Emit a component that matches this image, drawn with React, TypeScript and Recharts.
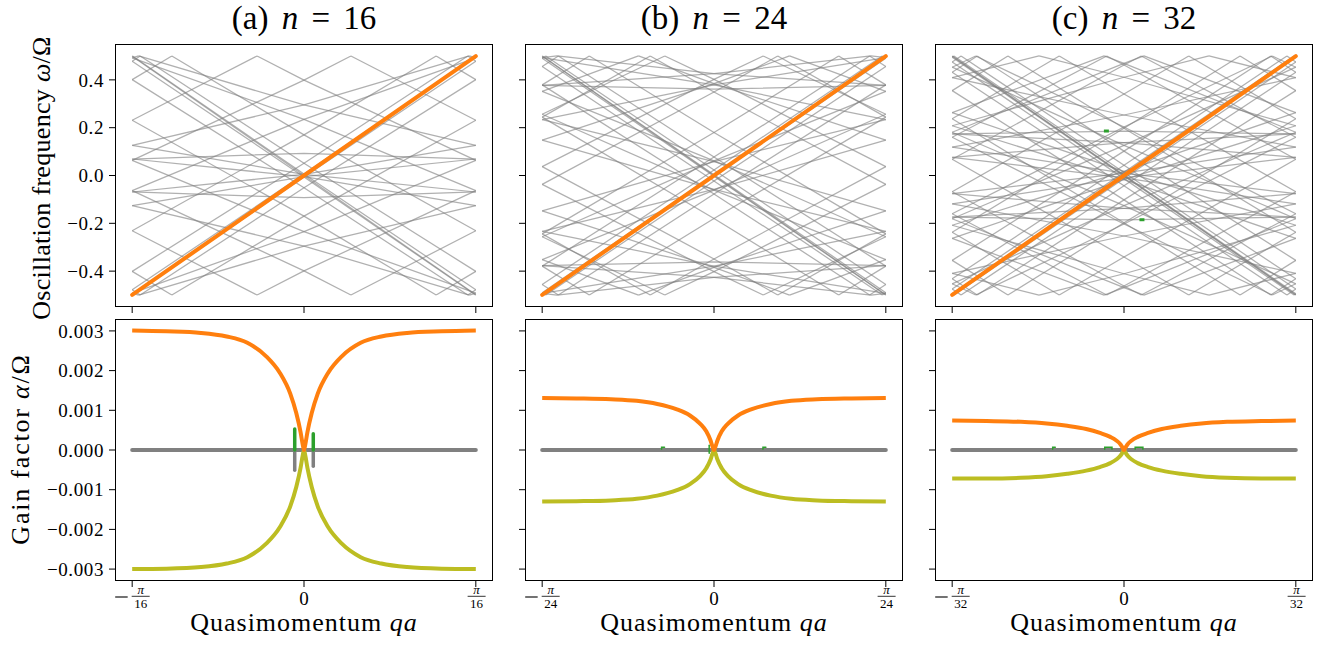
import React from 'react'
import { LineChart, Line, XAxis, YAxis } from 'recharts'

const SERIF = '"Liberation Serif", "DejaVu Serif", serif'

// ticks (x in units of pi/n)
const xTicks = [-1, 0, 1]
const omegaTicks = [-0.4, -0.2, 0, 0.2, 0.4]
const gainTicks = [-0.003, -0.002, -0.001, 0, 0.001, 0.002, 0.003]

// band branches m = 1..n/2, unfolded omega/Omega at qa = -pi/n, 0, +pi/n
const bandX = [-1, 0, 1]
const bands16 = [
  [0.4992, 0.994, 1.478], [1.478, 1.949, 2.401], [2.401, 2.83, 3.231], [3.231, 3.601, 3.937],
  [3.937, 4.235, 4.492], [4.492, 4.705, 4.874], [4.874, 4.995, 5.069], [5.069, 5.093, 5.069],
]
const bands24 = [
  [0.4997, 0.997, 1.49], [1.49, 1.977, 2.456], [2.456, 2.923, 3.379], [3.379, 3.82, 4.244],
  [4.244, 4.651, 5.037], [5.037, 5.402, 5.744], [5.744, 6.061, 6.352], [6.352, 6.616, 6.852],
  [6.852, 7.058, 7.234], [7.234, 7.379, 7.493], [7.493, 7.574, 7.623], [7.623, 7.639, 7.623],
]
const bands32 = [
  [0.4998, 0.998, 1.495], [1.495, 1.987, 2.475], [2.475, 2.957, 3.432], [3.432, 3.898, 4.355],
  [4.355, 4.802, 5.237], [5.237, 5.659, 6.068], [6.068, 6.462, 6.84], [6.84, 7.203, 7.547],
  [7.547, 7.874, 8.181], [8.181, 8.469, 8.737], [8.737, 8.983, 9.208], [9.208, 9.411, 9.591],
  [9.591, 9.747, 9.881], [9.881, 9.99, 10.076], [10.076, 10.137, 10.174], [10.174, 10.186, 10.174],
]
// the amplified mode (orange in the top row)
const lightBand = [-0.4992, 0, 0.4992]

// gain factor alpha/Omega vs qa
const qGrid = [-1, -0.8, -0.6, -0.45, -0.33, -0.22, -0.14, -0.08, -0.045, -0.02, -0.008, 0,
  0.008, 0.02, 0.045, 0.08, 0.14, 0.22, 0.33, 0.45, 0.6, 0.8, 1]
const gain16 = [0.00301, 0.00299, 0.00295, 0.00286, 0.0027, 0.00236, 0.00194, 0.00142, 0.00093, 0.00045, 0.00015, 0,
  0.00015, 0.00045, 0.00093, 0.00142, 0.00194, 0.00236, 0.0027, 0.00286, 0.00295, 0.00299, 0.00301]
const loss16 = [-0.003, -0.00299, -0.00295, -0.00286, -0.0027, -0.00236, -0.00194, -0.00142, -0.00093, -0.00045, -0.00015, 0,
  -0.00015, -0.00045, -0.00093, -0.00142, -0.00194, -0.00236, -0.0027, -0.00286, -0.00295, -0.00299, -0.003]
const gain24 = [0.00131, 0.0013, 0.00128, 0.00124, 0.00116, 0.00103, 0.00087, 0.00066, 0.00047, 0.00024, 0.00008, 0,
  0.00008, 0.00024, 0.00047, 0.00066, 0.00087, 0.00103, 0.00116, 0.00124, 0.00128, 0.0013, 0.00131]
const loss24 = [-0.0013, -0.00129, -0.00127, -0.00123, -0.00115, -0.00102, -0.00086, -0.00065, -0.00046, -0.00024, -0.00008, 0,
  -0.00008, -0.00024, -0.00046, -0.00065, -0.00086, -0.00102, -0.00115, -0.00123, -0.00127, -0.00129, -0.0013]
const gain32 = [0.00074, 0.00073, 0.00071, 0.00067, 0.00061, 0.00053, 0.00043, 0.00033, 0.00024, 0.00014, 0.00006, 0,
  0.00006, 0.00014, 0.00024, 0.00033, 0.00043, 0.00053, 0.00061, 0.00067, 0.00071, 0.00073, 0.00074]
const loss32 = [-0.00072, -0.00072, -0.0007, -0.00066, -0.0006, -0.00052, -0.00043, -0.00033, -0.00024, -0.00014, -0.00006, 0,
  -0.00006, -0.00014, -0.00024, -0.00033, -0.00043, -0.00052, -0.0006, -0.00066, -0.0007, -0.00072, -0.00072]
const zeroLine = [[-1, 0], [1, 0]]

// small marks
const greenGain16 = [[[-0.054, 0], [-0.054, 0.00053]], [[0.054, 0], [0.054, 0.00041]]]
const grayGain16 = [[[-0.054, 0], [-0.054, -0.00051]], [[0.054, 0], [0.054, -0.00041]]]
const greenGain24 = [
  [[-0.305, 0.00002], [-0.305, 0.00007], [-0.288, 0.00007]],
  [[0.285, 0.00002], [0.285, 0.00007], [0.302, 0.00007]],
  [[-0.028, -0.00008], [-0.028, 0.00012]],
]
const greenGain32 = [
  [[-0.415, 0.00002], [-0.415, 0.00007], [-0.4, 0.00007]],
  [[-0.112, 0.00002], [-0.112, 0.00007], [-0.07, 0.00007], [-0.07, 0.00002]],
  [[0.065, 0.00002], [0.065, 0.00007], [0.11, 0.00007], [0.11, 0.00002]],
]
const greenOmega32 = [[[-0.117, 0.186], [-0.088, 0.186]], [[0.09, -0.185], [0.119, -0.185]]]

type Pt = { x: number; w: number | null }

const wrap = (w: number) => w - Math.round(w)

// fold an unfolded branch into the first frequency zone [-0.5, 0.5]
function fold(ws: number[], sign: number): Pt[] {
  const pts: Pt[] = [{ x: bandX[0], w: sign * wrap(ws[0]) }]
  for (let i = 0; i < ws.length - 1; i++) {
    const x0 = bandX[i], x1 = bandX[i + 1], w0 = ws[i], w1 = ws[i + 1]
    const lo = Math.min(w0, w1), hi = Math.max(w0, w1)
    const up = w1 > w0
    const edges: number[] = []
    for (let k = Math.floor(lo) - 1; k <= Math.ceil(hi); k++) {
      const e = k + 0.5
      if (e > lo && e < hi) edges.push(e)
    }
    if (!up) edges.reverse()
    for (const e of edges) {
      const xe = x0 + ((e - w0) / (w1 - w0)) * (x1 - x0)
      pts.push({ x: xe, w: sign * (up ? 0.5 : -0.5) })
      pts.push({ x: xe, w: null })
      pts.push({ x: xe, w: sign * (up ? -0.5 : 0.5) })
    }
    pts.push({ x: x1, w: sign * wrap(w1) })
  }
  return pts
}

function grayLines(bands: number[][]): Pt[][] {
  const out: Pt[][] = []
  bands.forEach((b, i) => {
    const variants = i === bands.length - 1 ? [b] : [b, [...b].reverse()]
    variants.forEach(v => {
      out.push(fold(v, 1))
      out.push(fold(v, -1))
    })
  })
  out.push(fold(lightBand, -1))
  return out
}

const toPts = (seg: number[][]): Pt[] => seg.map(([x, w]) => ({ x, w }))

const panels = [
  { n: 16, letter: 'a', left: 115, bands: bands16, gain: gain16, loss: loss16, green: greenGain16, grayMarks: grayGain16, greenTop: [] as number[][][] },
  { n: 24, letter: 'b', left: 525, bands: bands24, gain: gain24, loss: loss24, green: greenGain24, grayMarks: [] as number[][][], greenTop: [] as number[][][] },
  { n: 32, letter: 'c', left: 935, bands: bands32, gain: gain32, loss: loss32, green: greenGain32, grayMarks: [] as number[][][], greenTop: greenOmega32 },
]

const AXIS_W = 100
const PLOT_W = 378
const TOP_Y = 44
const TOP_H = 263
const BOT_Y = 319
const BOT_H = 262

const noTick = () => <g />
const minus = (v: number) => (v < 0 ? '\u2212' : '')
const fmtOmega = (v: number) => minus(v) + Math.abs(v).toFixed(1)
const fmtGain = (v: number) => minus(v) + Math.abs(v).toFixed(3)
const tickStyle = { fontSize: 19, fontFamily: SERIF, fill: '#000', letterSpacing: 0.6 }

const fracTick = (n: number) => (props: any) => {
  const { x, y, payload } = props
  const v = payload.value
  if (v === 0) {
    return <text x={x} y={y + 18} textAnchor="middle" fontSize={19} fontFamily={SERIF} fill="#000">0</text>
  }
  const cx = v < 0 ? x + 8.5 : x + 0.8
  return (
    <g>
      {v < 0 && <line x1={x - 17} x2={x - 4.5} y1={y + 10} y2={y + 10} stroke="#000" strokeWidth={1.1} />}
      <text x={cx} y={y + 7} textAnchor="middle" fontSize={13} fontStyle="italic" fontFamily={SERIF} fill="#000">π</text>
      <line x1={cx - 9} x2={cx + 9} y1={y + 9.3} y2={y + 9.3} stroke="#000" strokeWidth={0.8} />
      <text x={cx} y={y + 20.5} textAnchor="middle" fontSize={13} fontFamily={SERIF} fill="#000">{n}</text>
    </g>
  )
}

const lineProps = { dot: false, activeDot: false, isAnimationActive: false, dataKey: 'w' } as const

function Frame({ left, top, height }: { left: number; top: number; height: number }) {
  return (
    <div style={{ position: 'absolute', left, top, width: PLOT_W, height, border: '1px solid #000', boxSizing: 'border-box', pointerEvents: 'none' }} />
  )
}

function Column({ p, index }: { p: typeof panels[number]; index: number }) {
  const lines = grayLines(p.bands)
  const cx = p.left + PLOT_W / 2
  return (
    <>
      <div style={{ position: 'absolute', left: cx, top: 2, transform: 'translateX(-50%)', fontSize: 33, lineHeight: 1, whiteSpace: 'nowrap', wordSpacing: 5 }}>
        ({p.letter}) <i>n</i> = {p.n}
      </div>

      <div style={{ position: 'absolute', left: p.left - AXIS_W, top: TOP_Y }}>
        <LineChart width={AXIS_W + PLOT_W} height={TOP_H + 12} margin={{ top: 0, right: 0, bottom: 0, left: 0 }}>
          <XAxis type="number" dataKey="x" domain={[-1.1, 1.1]} ticks={xTicks} interval={0} allowDataOverflow
            axisLine={false} tickLine={{ stroke: '#000' }} tickSize={6} tick={noTick} height={12} />
          <YAxis type="number" domain={[-0.55, 0.55]} ticks={omegaTicks} interval={0} allowDataOverflow
            axisLine={false} tickLine={{ stroke: '#000' }} tickSize={6} tickMargin={5} width={AXIS_W}
            tick={index === 0 ? tickStyle : noTick} tickFormatter={fmtOmega} />
          {lines.map((pts, i) => (
            <Line key={'g' + i} data={pts} {...lineProps} type="linear" stroke="#808080" strokeOpacity={0.62} strokeWidth={1.25} />
          ))}
          <Line data={toPts([[-1, lightBand[0]], [0, lightBand[1]], [1, lightBand[2]]])} {...lineProps} type="linear"
            stroke="#ff7f0e" strokeWidth={4} strokeLinecap="round" />
          {p.greenTop.map((seg, i) => (
            <Line key={'t' + i} data={toPts(seg)} {...lineProps} type="linear" stroke="#2ca02c" strokeWidth={3} />
          ))}
        </LineChart>
      </div>
      <Frame left={p.left} top={TOP_Y} height={TOP_H} />

      <div style={{ position: 'absolute', left: p.left - AXIS_W, top: BOT_Y }}>
        <LineChart width={AXIS_W + PLOT_W} height={BOT_H + 40} margin={{ top: 0, right: 0, bottom: 0, left: 0 }}>
          <XAxis type="number" dataKey="x" domain={[-1.1, 1.1]} ticks={xTicks} interval={0} allowDataOverflow
            axisLine={false} tickLine={{ stroke: '#000' }} tickSize={6} tickMargin={0} tick={fracTick(p.n)} height={40} />
          <YAxis type="number" domain={[-0.0033, 0.0033]} ticks={gainTicks} interval={0} allowDataOverflow
            axisLine={false} tickLine={{ stroke: '#000' }} tickSize={6} tickMargin={5} width={AXIS_W}
            tick={index === 0 ? tickStyle : noTick} tickFormatter={fmtGain} />
          <Line data={toPts(zeroLine)} {...lineProps} type="linear" stroke="#808080" strokeWidth={4} strokeLinecap="round" />
          {p.grayMarks.map((seg, i) => (
            <Line key={'m' + i} data={toPts(seg)} {...lineProps} type="linear" stroke="#808080" strokeWidth={3.5} strokeLinecap="round" />
          ))}
          {p.green.map((seg, i) => (
            <Line key={'k' + i} data={toPts(seg)} {...lineProps} type="linear" stroke="#2ca02c"
              strokeWidth={p.n === 16 ? 3.5 : 1.5} strokeLinecap="round" />
          ))}
          <Line data={qGrid.map((x, i) => ({ x, w: p.loss[i] }))} {...lineProps} type="monotone" stroke="#bcbd22" strokeWidth={4} />
          <Line data={qGrid.map((x, i) => ({ x, w: p.gain[i] }))} {...lineProps} type="monotone" stroke="#ff7f0e" strokeWidth={4} />
        </LineChart>
      </div>
      <Frame left={p.left} top={BOT_Y} height={BOT_H} />

      <div style={{ position: 'absolute', left: cx, top: 610, transform: 'translateX(-50%)', fontSize: 26, lineHeight: 1, whiteSpace: 'nowrap', letterSpacing: 1 }}>
        Quasimomentum <i>qa</i>
      </div>
    </>
  )
}

const yLabel = (x: number, y: number, spacing: number): React.CSSProperties => ({
  position: 'absolute', left: x, top: y, transform: 'translate(-50%, -50%) rotate(-90deg)',
  fontSize: 26, lineHeight: 1, whiteSpace: 'nowrap', letterSpacing: spacing,
})

export default function App() {
  return (
    <div style={{ position: 'absolute', left: 0, top: 0, width: 1324, height: 645, background: '#fff', fontFamily: SERIF, color: '#000', overflow: 'hidden' }}>
      {panels.map((p, i) => <Column key={p.n} p={p} index={i} />)}
      <div style={yLabel(42, 178, 0.3)}>Oscillation frequency <i>ω</i>/Ω</div>
      <div style={yLabel(21, 449, 1.8)}>Gain factor <i>α</i>/Ω</div>
    </div>
  )
}
